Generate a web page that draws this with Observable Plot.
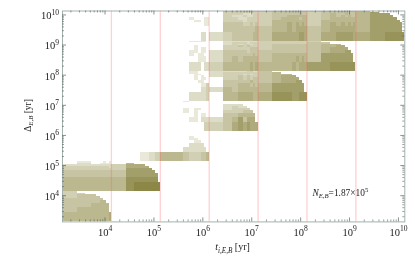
<!DOCTYPE html>
<html><head><meta charset="utf-8">
<style>html,body{margin:0;padding:0;background:#fff}svg{display:block;filter:blur(0.3px)}</style>
<script src="https://cdn.jsdelivr.net/npm/d3@7"></script>
<script src="https://cdn.jsdelivr.net/npm/@observablehq/plot@0.6"></script>
</head><body><div id="chart"></div>
<script>
const binBase = 1.349;              // bin edges: binBase × m × 10^k, m = 1…10
const axisDomain = [1349, 1.349e10];
const majorTicks = [1e4, 1e5, 1e6, 1e7, 1e8, 1e9, 1e10];
const yMajorTicks = [1e4, 1e5, 1e6, 1e7, 1e8, 1e9, 1e10];
const minorDecades = [1e3, 1e4, 1e5, 1e6, 1e7, 1e8, 1e9, 1e10];
const minorMult = [2, 3, 4, 5, 6, 7, 8, 9];
const redLines = [1.349e4, 1.349e5, 1.349e6, 1.349e7, 1.349e8, 1.349e9];

// Each list: rows top to bottom in a decade of Δ (mantissa 9…1); groups are decades of t.
const block1Rows = ["3","33","3444","34444","444444","4444455","44455555","45555555","555555556"];
const block2Rows = [
  ".11...1.1",
  ".22..1111 .5",
  "222222222 3666",
  "333333332 36666",
  "333333333 377777",
  "444444444 4777777",
  "444444444 47777777",
  "555555555 58888888",
  "555555555 589999999"];
const block3Rows = [
  "", "", "",
  " ...1",
  " ...11",
  " ....11",
  " ...2222",
  " ..222222",
  "...112233 554333445"];
const block4Rows = [
  "..1",
  "",
  "......... .222",
  "......... .2322",
  "..1.11... .23333",
  "..1.1.... .333444",
  "....1.11. .4455555",
  "...11.222 24574666",
  ".......33 346767666"];
const block5Rows = [
  "...11.... 222223322 4",
  "...11.... 233333333 45",
  "....11... 233323233 4555",
  "....1.1.. 233434333 45666",
  "....1.11. .33434344 456666",
  ".....11.. .44444544 4566677",
  "......113 .44555454 57777777",
  "......223 254555555 57777777",
  "...222223 .55666655 688877888"];
const block6Rows = [
  "...11111. .22222222 333333333 3",
  "......... .23332333 333333333 44",
  "......... .23233233 344444444 4555",
  "....1.... .33434333 344444444 45566",
  "....1.11. .33333444 344444444 456666",
  "...11.11. 244443444 444444444 4566677",
  "...1.11.. 244444454 455555555 47777777",
  ".....111. 245455555 455556565 47777777",
  "...222.22 355555656 555565666 778888888"];
const block7Rows = [
  "..11111.. .55555555 566666666 566666666 6",
  "......... .33333333 344444444 344444444 57",
  "......... .33322133 344444444 345445444 5777",
  "......... .32232233 344555555 345454544 57777",
  "...1...11 .33223333 345555455 345555555 577777",
  "....11.11 .33323333 355555555 355555555 5777777",
  ".......11 .44433434 355656565 356565656 57777777",
  "......... .44444445 455656666 456666666 57777777",
  "......22. 234444455 466666776 466777776 677888888"];

const blocks = [
  {rows: block1Rows, yDecade: 3, xDecade: 3},
  {rows: block2Rows, yDecade: 4, xDecade: 3},
  {rows: block3Rows, yDecade: 5, xDecade: 4},
  {rows: block4Rows, yDecade: 6, xDecade: 5},
  {rows: block5Rows, yDecade: 7, xDecade: 5},
  {rows: block6Rows, yDecade: 8, xDecade: 5},
  {rows: block7Rows, yDecade: 9, xDecade: 5}
];
const cells = [];
for (const b of blocks) {
  b.rows.forEach((row, r) => {
    const my = 9 - r;
    row.split(" ").forEach((grp, g) => {
      [...grp].forEach((ch, i) => {
        if (ch === ".") return;
        const xd = 10 ** (b.xDecade + g), yd = 10 ** b.yDecade;
        cells.push({
          x1: binBase * (i + 1) * xd, x2: binBase * (i + 2) * xd,
          y1: binBase * my * yd, y2: binBase * (my + 1) * yd,
          v: +ch
        });
      });
    });
  });
}

const minor = minorDecades.flatMap(d => minorMult.map(m => d * m)).filter(v => v > axisDomain[0] && v < axisDomain[1]);
const tickC = "#5a5f5f";
const W = 415, H = 264, mL = 62, mR = 10.7, mT = 10.5, mB = 42.6;
const pw = W - mL - mR, ph = H - mT - mB;
const serif = "Liberation Serif";
const lab = d => `10^{${Math.round(Math.log10(d))}}`;

const chart = Plot.plot({
  width: W, height: H, marginLeft: mL, marginRight: mR, marginTop: mT, marginBottom: mB,
  style: {background: "#fff", fontFamily: serif},
  x: {type: "log", domain: axisDomain, axis: null},
  y: {type: "log", domain: axisDomain, axis: null},
  color: {type: "linear", domain: [1, 9], range: ["#e9e8d9", "#8c8746"], interpolate: "rgb"},
  marks: [
    Plot.rect(cells, {x1: "x1", x2: "x2", y1: "y1", y2: "y2", fill: "v", shapeRendering: "crispEdges"}),
    Plot.ruleX(redLines, {stroke: "#ff5a5a", strokeOpacity: 0.28, strokeWidth: 1.3}),
    Plot.frame({stroke: "#a3b2ad", strokeWidth: 1}),
    // inward ticks on all four sides
    Plot.ruleX(majorTicks, {stroke: tickC, strokeWidth: 0.7, insetTop: ph - 4}),
    Plot.ruleX(majorTicks, {stroke: tickC, strokeWidth: 0.7, insetBottom: ph - 4}),
    Plot.ruleX(minor, {stroke: tickC, strokeWidth: 0.6, insetTop: ph - 2}),
    Plot.ruleX(minor, {stroke: tickC, strokeWidth: 0.6, insetBottom: ph - 2}),
    Plot.ruleY(yMajorTicks, {stroke: tickC, strokeWidth: 0.7, insetRight: pw - 4}),
    Plot.ruleY(yMajorTicks, {stroke: tickC, strokeWidth: 0.7, insetLeft: pw - 4}),
    Plot.ruleY(minor, {stroke: tickC, strokeWidth: 0.6, insetRight: pw - 2}),
    Plot.ruleY(minor, {stroke: tickC, strokeWidth: 0.6, insetLeft: pw - 2}),
    // tick labels
    Plot.text(majorTicks, {x: d => d, text: lab, frameAnchor: "bottom", lineAnchor: "bottom", dy: 14, fontSize: 10.5, fill: "#222"}),
    Plot.text(yMajorTicks, {y: d => d, text: lab, frameAnchor: "left", textAnchor: "end", lineAnchor: "middle", dx: -3.5, dy: 1, fontSize: 10.5, fill: "#222"}),
    // axis titles and note
    Plot.text(["*t*_{i,E,B} [yr]"], {x: [4.04e6], frameAnchor: "bottom", lineAnchor: "bottom", dy: 28.5, fontSize: 10, fill: "#222"}),
    Plot.text(["Δ_{E,B} [yr]"], {y: [4.6e6], frameAnchor: "left", dx: -32, rotate: -90, textAnchor: "middle", lineAnchor: "bottom", fontSize: 9.5, fill: "#222"}),
    Plot.text(["*N*_{E,B}=1.87×10^{5}"], {x: [1.74e8], y: [1e4], textAnchor: "start", lineAnchor: "bottom", fontSize: 9.4, fill: "#222"})
  ]
});

// turn the ^{…}, _{…} and *…* markers into real tspans
function enrich(el) {
  const s = el.textContent;
  if (!/[\^_*]/.test(s)) return;
  el.textContent = "";
  let shift = 0;
  for (const p of s.split(/(\^\{[^}]*\}|_\{[^}]*\}|\*[^*]+\*)/)) {
    if (!p) continue;
    const t = document.createElementNS("http://www.w3.org/2000/svg", "tspan");
    let target = 0, txt = p;
    const fs = parseFloat(getComputedStyle(el).fontSize) || 10;
    if (p[0] === "^") { target = -fs * 0.42; txt = p.slice(2, -1); t.setAttribute("font-size", fs * 0.72); }
    else if (p[0] === "_") { target = fs * 0.22; txt = p.slice(2, -1); t.setAttribute("font-size", fs * 0.72); t.setAttribute("font-style", "italic"); }
    else if (p[0] === "*") { txt = p.slice(1, -1); t.setAttribute("font-style", "italic"); }
    t.setAttribute("dy", target - shift);
    shift = target;
    t.textContent = txt;
    el.appendChild(t);
  }
}
document.getElementById("chart").appendChild(chart);
chart.querySelectorAll("text").forEach(enrich);
</script></body></html>
